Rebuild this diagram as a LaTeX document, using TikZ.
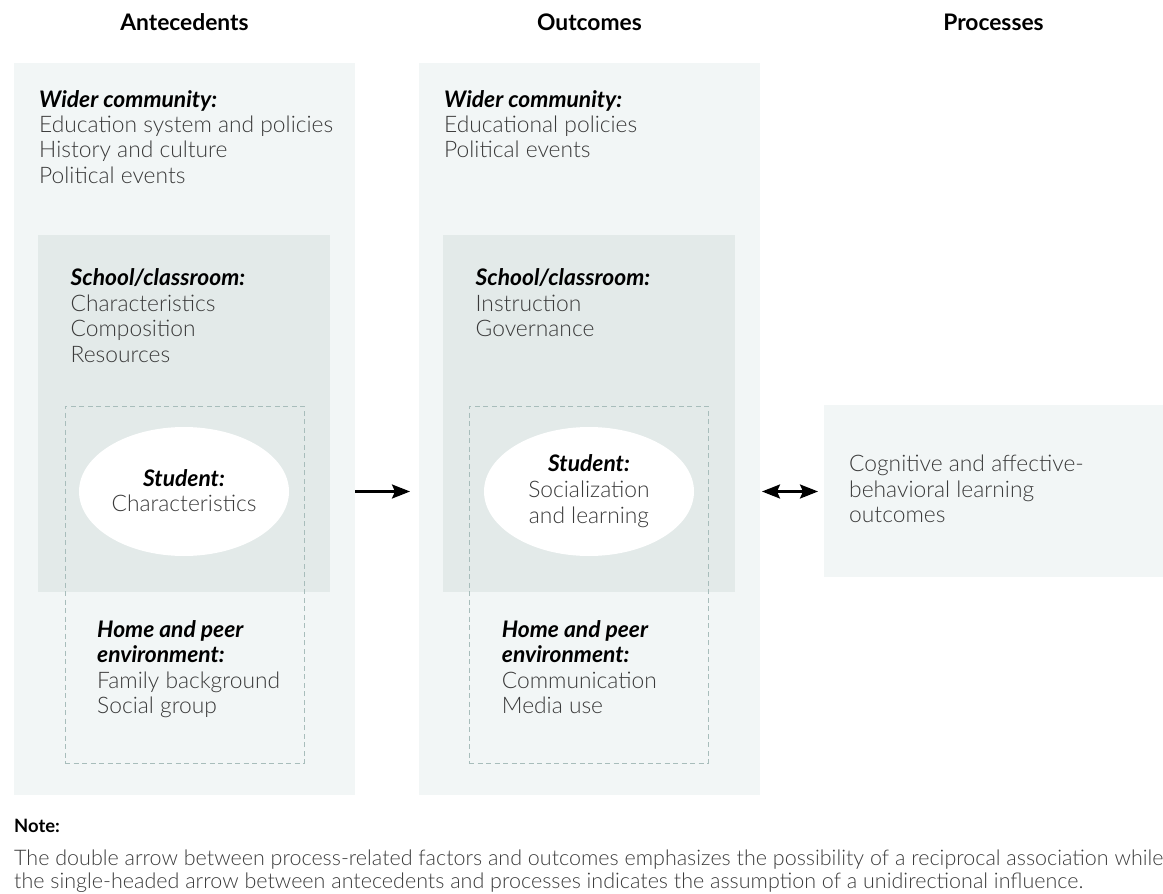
\documentclass[tikz,border=0pt]{standalone}
\usepackage{fontspec}
\setmainfont{Lato}
\IfFontExistsTF{Lato Light}{\newfontfamily\bodyfont{Lato Light}}{\newfontfamily\bodyfont{Lato}}
\usetikzlibrary{arrows.meta,shapes.geometric}
\definecolor{outerfill}{HTML}{F2F6F6}
\definecolor{innerfill}{HTML}{E3EAE9}
\definecolor{dashcol}{HTML}{A8BDBB}
\definecolor{bodycol}{HTML}{3A3A3A}
\tikzset{
  box/.style={draw=none, inner sep=0pt, outer sep=0pt, anchor=north west},
  outerbox/.style={box, fill=outerfill},
  innerbox/.style={box, fill=innerfill},
  dashbox/.style={box, draw=dashcol, line width=1pt, dash pattern=on 5pt off 3.5pt},
  studell/.style={ellipse, fill=white, draw=none, inner sep=0pt, minimum width=210pt, minimum height=129pt},
  txt/.style={inner sep=0pt, anchor=base west, text=bodycol, font=\bodyfont\fontsize{22.8}{26}\selectfont},
  head/.style={inner sep=0pt, anchor=base west, text=black, font=\fontsize{22.8}{26}\selectfont\bfseries\itshape},
  ctxt/.style={txt, anchor=base},
  chead/.style={head, anchor=base},
  title/.style={inner sep=0pt, anchor=base, text=black, font=\fontsize{22.8}{26}\selectfont\bfseries},
  tip/.tip={Stealth[length=18pt,width=14pt,inset=3pt]},
  arr/.style={line width=2.6pt, -tip},
  darr/.style={line width=2.6pt, tip-tip},
  notetxt/.style={inner sep=0pt, anchor=base west, text=bodycol, font=\bodyfont\fontsize{21.5}{24}\selectfont}
}
\begin{document}
\begin{tikzpicture}[x=1pt,y=-1pt]
\useasboundingbox (0,0) rectangle (1163,894);
% boxes
\node[outerbox, minimum width=341pt, minimum height=732pt] (antbox) at (14,63) {};
\node[outerbox, minimum width=341pt, minimum height=732pt] (outbox) at (419,63) {};
\node[outerbox, minimum width=339pt, minimum height=172pt] (procbox) at (824,405) {};
\node[innerbox, minimum width=292pt, minimum height=357pt] (antschool) at (38,235) {};
\node[innerbox, minimum width=292pt, minimum height=357pt] (outschool) at (443,235) {};
\node[dashbox, minimum width=239pt, minimum height=357pt] (anthome) at (65,406) {};
\node[dashbox, minimum width=239pt, minimum height=357pt] (outhome) at (469,406) {};
\node[studell] (antstud) at (184,491.5) {};
\node[studell] (outstud) at (589,491.5) {};
% titles
\node[title] (t1) at (184.5,30.5) {Antecedents};
\node[title] (t2) at (589.5,30.5) {Outcomes};
\node[title] (t3) at (993.5,30.5) {Processes};
% antecedents text
\node[head] (aw0) at (39,107) {Wider community:};
\node[txt] (aw1) at (39,132.3) {Education system and policies};
\node[txt] (aw2) at (39,157.6) {History and culture};
\node[txt] (aw3) at (39,183) {Political events};
\node[head] (as0) at (70.5,285) {School/classroom:};
\node[txt] (as1) at (70.5,311) {Characteristics};
\node[txt] (as2) at (70.5,336.5) {Composition};
\node[txt] (as3) at (70.5,362) {Resources};
\node[chead] (ast0) at (184,486) {Student:};
\node[ctxt] (ast1) at (184,511.5) {Characteristics};
\node[head] (ah0) at (97,637) {Home and peer};
\node[head] (ah1) at (97,662.5) {environment:};
\node[txt] (ah2) at (97,688) {Family background};
\node[txt] (ah3) at (97,713.5) {Social group};
% outcomes text
\node[head] (ow0) at (444,107) {Wider community:};
\node[txt] (ow1) at (444,132.3) {Educational policies};
\node[txt] (ow2) at (444,157.6) {Political events};
\node[head] (os0) at (475.5,285) {School/classroom:};
\node[txt] (os1) at (475.5,311) {Instruction};
\node[txt] (os2) at (475.5,336.5) {Governance};
\node[chead] (ost0) at (589,471.7) {Student:};
\node[ctxt] (ost1) at (589,497.7) {Socialization};
\node[ctxt] (ost2) at (589,523.3) {and learning};
\node[head] (oh0) at (501.7,637) {Home and peer};
\node[head] (oh1) at (501.7,662.5) {environment:};
\node[txt] (oh2) at (501.7,688) {Communication};
\node[txt] (oh3) at (501.7,713.5) {Media use};
% processes text
\node[txt] (p1) at (849,471.7) {Cognitive and affective-};
\node[txt] (p2) at (849,497.3) {behavioral learning};
\node[txt] (p3) at (849,522.7) {outcomes};
% arrows
\draw[arr, shorten >=9pt] (antbox.east |- antstud.center) -- (outbox.west |- antstud.center);
\draw[darr, shorten <=2pt, shorten >=6pt] (outbox.east |- outstud.center) -- (procbox.west |- outstud.center);
% note
\node[inner sep=0pt, anchor=base west, text=black, font=\fontsize{18.4}{24}\selectfont\bfseries] (nt) at (14,832) {Note:};
\node[notetxt] (n1) at (14,865) {The double arrow between process-related factors and outcomes emphasizes the possibility of a reciprocal association while};
\node[notetxt] (n2) at (14,888) {the single-headed arrow between antecedents and processes indicates the assumption of a unidirectional influence.};
\end{tikzpicture}
\end{document}
